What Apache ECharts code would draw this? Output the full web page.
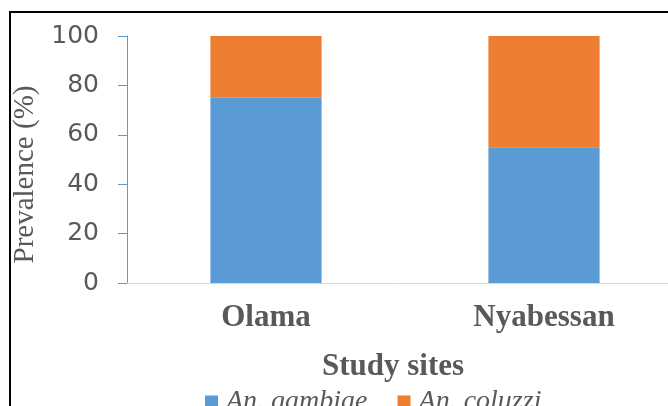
<!DOCTYPE html>
<html>
<head>
<meta charset="utf-8">
<script src="https://cdn.jsdelivr.net/npm/echarts@6/dist/echarts.min.js"></script>
<style>
html,body{margin:0;padding:0;background:#fff;}
#chart{width:668px;height:406px;}
</style>
</head>
<body>
<div id="chart"></div>
<script>
const categories = ['Olama', 'Nyabessan'];
const gambiae = [75, 55];
const coluzzi = [25, 45];
const seriesNames = ['An. gambiae', 'An. coluzzi'];
const yTicks = [0, 20, 40, 60, 80, 100];

const chart = echarts.init(document.getElementById('chart'), null, {renderer: 'canvas'});
const serif = '"Liberation Serif", "Times New Roman", serif';
chart.setOption({
  animation: false,
  backgroundColor: '#ffffff',
  grid: {left: 127, top: 36, width: 556, height: 247, containLabel: false, outerBoundsMode: 'none'},
  graphic: [
    {type: 'rect', shape: {x: 10, y: 12, width: 720, height: 460},
     style: {fill: 'none', stroke: '#000', lineWidth: 2}, silent: true, z: 100}
  ],
  legend: {
    data: seriesNames,
    left: 205, top: 388, padding: 0,
    icon: 'rect', itemWidth: 13, itemHeight: 13, itemGap: 30,
    textStyle: {fontFamily: serif, fontStyle: 'italic', fontSize: 28, color: '#595959', padding: [0,0,0,3]}
  },
  xAxis: {
    type: 'category',
    data: categories,
    name: 'Study sites',
    nameLocation: 'middle',
    nameGap: 68,
    nameTextStyle: {fontFamily: serif, fontWeight: 'bold', fontSize: 31, color: '#595959', padding: [0, 24, 0, 0]},
    axisLine: {lineStyle: {color: '#d9d9d9', width: 1}},
    axisTick: {show: false},
    axisLabel: {fontFamily: serif, fontWeight: 'bold', fontSize: 31, color: '#595959', margin: 19}
  },
  yAxis: {
    type: 'value',
    min: 0, max: 100, interval: 20,
    name: 'Prevalence (%)',
    nameLocation: 'middle',
    nameGap: 81,
    nameTextStyle: {fontFamily: serif, fontSize: 29, color: '#595959', padding: [0, 30, 0, 0]},
    axisLine: {show: true, lineStyle: {color: '#5b9bd5', width: 1}},
    axisTick: {show: true, length: 9, lineStyle: {color: '#5b9bd5'}},
    splitLine: {show: false},
    axisLabel: {fontFamily: '"DejaVu Sans", sans-serif', fontSize: 25, color: '#595959', margin: 28,
      formatter: v => yTicks.includes(v) ? String(v) : ''}
  },
  series: [
    {name: seriesNames[0], type: 'bar', stack: 'total', barWidth: '40%', data: gambiae,
     itemStyle: {color: '#5b9bd5'}},
    {name: seriesNames[1], type: 'bar', stack: 'total', barWidth: '40%', data: coluzzi,
     itemStyle: {color: '#ed7d31'}}
  ]
});
</script>
</body>
</html>
